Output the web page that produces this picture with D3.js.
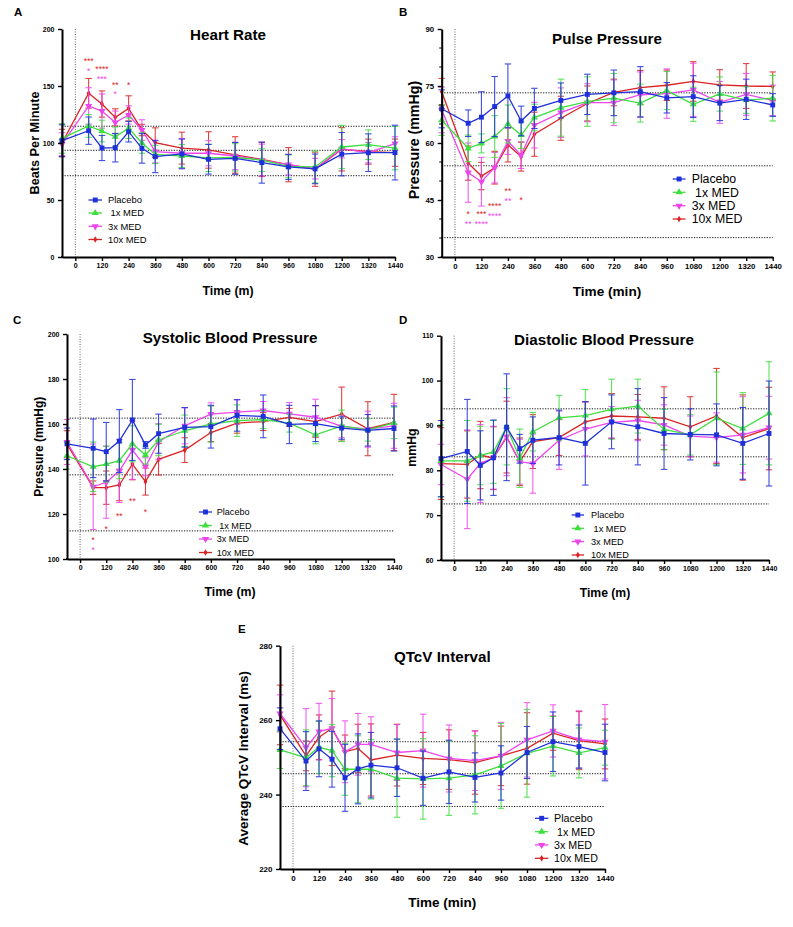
<!DOCTYPE html>
<html><head><meta charset="utf-8">
<script src="https://cdn.jsdelivr.net/npm/d3@7"></script>
<style>
body{margin:0;background:#fff}
svg{display:block}
text{font-family:"Liberation Sans",Arial,Helvetica,sans-serif}
</style>
</head><body>
<svg id="chart" width="793" height="927"></svg>
<script>
// ---------- shared data ----------
const times = [-60, 60, 120, 180, 240, 300, 360, 480, 600, 720, 840, 960, 1080, 1200, 1320, 1440];
const xTickValues = [0, 120, 240, 360, 480, 600, 720, 840, 960, 1080, 1200, 1320, 1440];
const seriesNames = ["Placebo", " 1x MED", "3x MED", "10x MED"];
const seriesColors = ["#1f2fd9", "#3fde3f", "#ec45ec", "#d92323"];

// ---------- A: Heart Rate ----------
const hrPlacebo = [102, 110.8, 95.6, 95.9, 109.9, 95.3, 88, 90.4, 85.7, 86.5, 82.8, 79, 77.3, 90.2, 91.5, 91.6];
const hrPlaceboErr = [14, 12, 11, 12.5, 9, 13, 14, 13, 13, 14, 18, 11, 13, 19, 16.5, 24];
const hr1x = [104, 115, 110.5, 105.5, 113, 100, 90, 88.6, 87, 87.4, 85, 79.5, 79, 96.5, 98.5, 95.5];
const hr1xErr = [13, 10, 9.5, 8.5, 9, 9, 8, 10, 12, 12, 10, 10, 14, 19, 13, 19];
const hr3x = [99, 132.5, 128, 118, 124.6, 111.4, 92.5, 91, 91, 88.6, 85, 81, 77.5, 95, 91.5, 99.5];
const hr3xErr = [10, 16, 15, 10, 8, 9, 10, 13, 11, 12, 14, 9, 9, 8, 9, 6];
const hr10x = [100, 143.6, 134.2, 122.5, 130.4, 111.4, 100.3, 95.5, 93.9, 89.5, 85.6, 81, 77, 94.5, 92.4, 91.5];
const hr10xErr = [12, 13, 11.5, 7.5, 11, 5, 13, 14, 16, 16, 15, 15, 15, 19, 11, 12];
const hrRefLines = [114.7, 93.6, 71.3];
const hrYTicks = [0, 50, 100, 150, 200];
const hrStars = [
  {t: 60, v: 173.4, s: "***", k: 3}, {t: 60, v: 164.6, s: "*", k: 2},
  {t: 120, v: 167, s: "****", k: 3}, {t: 120, v: 158.2, s: "***", k: 2},
  {t: 180, v: 152.9, s: "**", k: 3}, {t: 180, v: 144.5, s: "*", k: 2},
  {t: 240, v: 152.9, s: "*", k: 3}
];

// ---------- B: Pulse Pressure ----------
const ppPlacebo = [69, 65.2, 66.8, 69.6, 72.4, 65.8, 69.1, 71.2, 72.8, 73.2, 73.5, 71.9, 72.2, 70.5, 71.5, 70];
const ppPlaceboErr = [5, 3.5, 6.7, 7.9, 8.4, 3.9, 5.3, 4.6, 5.3, 6, 6.6, 4, 5.5, 4.6, 5.3, 3];
const pp1x = [66, 58.6, 59.9, 61.7, 65, 62.1, 66.7, 69.3, 70.9, 71.8, 70.5, 73.8, 70.2, 72.9, 71.3, 71.8];
const pp1xErr = [4, 3.5, 2.5, 5.5, 5, 3.5, 3.5, 7.5, 6.5, 6.5, 5, 5, 4.5, 4.5, 3.5, 6];
const pp3x = [68.7, 52.2, 49.8, 53.5, 60.5, 56.8, 64.7, 68, 70.6, 70.6, 72.7, 73, 74, 70.7, 72.8, 71.2];
const pp3xErr = [6, 7.8, 6.4, 4, 3.5, 3.5, 6, 6.5, 5, 6, 6, 6.5, 7, 5.5, 5.5, 4];
const pp10x = [73.5, 54.7, 51.3, 53.5, 59.5, 56.4, 62.3, 66.5, 70.4, 73.3, 74.6, 75.2, 76.2, 75.3, 75, 74.9];
const pp10xErr = [3.5, 4.5, 3.6, 4.3, 4.5, 3.8, 5.8, 5.8, 4.6, 3.5, 4.5, 4, 5.2, 4, 5.9, 3.8];
const ppRefLines = [73.2, 54, 35.1];
const ppYTicks = [30, 45, 60, 75, 90];
const ppStars = [
  {t: 60, v: 41.9, s: "*", k: 3}, {t: 60, v: 39.3, s: "**", k: 2},
  {t: 120, v: 41.9, s: "***", k: 3}, {t: 120, v: 39.3, s: "****", k: 2},
  {t: 180, v: 43.9, s: "****", k: 3}, {t: 180, v: 41.3, s: "****", k: 2},
  {t: 240, v: 47.9, s: "**", k: 3}, {t: 240, v: 45.3, s: "**", k: 2},
  {t: 300, v: 45.4, s: "*", k: 3}
];

// ---------- C: Systolic Blood Pressure ----------
const sbpPlacebo = [151.2, 149.2, 147.7, 152.4, 161.8, 150.7, 155.7, 158.5, 158.8, 163.8, 163.4, 159.8, 160.2, 158.2, 157.2, 158];
const sbpPlaceboErr = [7, 13, 13, 14, 18, 1.5, 8.7, 8.8, 9.5, 7, 9.5, 8.5, 8, 5, 7, 10];
const sbp1x = [145.9, 141, 142.2, 143.7, 151.2, 146.2, 152.9, 157, 160, 161.5, 162, 160.4, 155.2, 159.2, 157.4, 160.5];
const sbp1xErr = [6, 11, 8, 8, 8, 4, 7, 7, 8, 7, 4, 4, 4, 7, 5, 7];
const sbp3x = [152, 132.1, 134.1, 139.1, 148.4, 141, 152.1, 159.2, 164.4, 165.3, 166, 164.5, 163, 158.9, 157.7, 159.2];
const sbp3xErr = [10, 19, 16, 14, 13, 4, 8, 8, 5, 5.5, 4, 5, 8, 5, 8, 10];
const sbp10x = [151, 131.7, 131.7, 132.9, 142.2, 134.4, 144.3, 148.4, 156.2, 160.4, 161.1, 162.9, 161.1, 164.4, 157.9, 160.7];
const sbp10xErr = [6, 3, 7.4, 7, 7, 6, 7, 5.5, 4, 4.5, 4, 4, 7, 12, 12, 12.5];
const sbpRefLines = [162.6, 137.4, 112.5];
const sbpYTicks = [100, 120, 140, 160, 180, 200];
const sbpStars = [
  {t: 60, v: 109.2, s: "*", k: 3}, {t: 60, v: 104.7, s: "*", k: 2},
  {t: 120, v: 114.1, s: "*", k: 3}, {t: 180, v: 119.9, s: "**", k: 3},
  {t: 240, v: 126.7, s: "**", k: 3}, {t: 300, v: 121.8, s: "*", k: 3}
];

// ---------- D: Diastolic Blood Pressure ----------
const dbpPlacebo = [82.6, 84.2, 81.1, 82.8, 89.6, 84.8, 86.7, 87.3, 86, 90.8, 89.7, 88.2, 88, 87.9, 86, 88.2];
const dbpPlaceboErr = [8.5, 11.6, 7.7, 8.4, 11.9, 3.2, 5.2, 6.1, 9.3, 6, 8.5, 8, 5.7, 6.9, 8, 11.7];
const dbp1x = [82.1, 82.1, 83.3, 84.1, 89.7, 82.7, 88.6, 91.7, 92.2, 93.6, 94.3, 89.1, 87.9, 91.6, 89.3, 92.7];
const dbp1xErr = [8, 9, 6.5, 7, 8.5, 6.5, 4.3, 5, 5.8, 6.7, 6, 4.5, 4.5, 10.3, 8, 11.5];
const dbp3x = [81.3, 78, 81.5, 82.8, 87.5, 81.9, 81.5, 86.7, 89.2, 90.7, 91.1, 90.1, 87.6, 87.3, 87.9, 89.5];
const dbp3xErr = [4.5, 11, 8.7, 7, 8.7, 5, 6.6, 6.5, 6, 3.5, 4.5, 4.5, 4.5, 5.5, 8.5, 7];
const dbp10x = [81.5, 81.3, 83.4, 82.7, 87.4, 81.9, 86.4, 87.3, 90.8, 92.1, 91.9, 91.6, 89.7, 92.1, 87.3, 89.3];
const dbp10xErr = [8, 7.5, 7.5, 7, 8, 5.3, 6, 4, 4.5, 5, 5, 7, 6.7, 10.6, 9.5, 9.2];
const dbpRefLines = [93.7, 83.0, 72.5];
const dbpYTicks = [60, 70, 80, 90, 100, 110];

// ---------- E: QTcV Interval ----------
const qtPlacebo = [257.7, 249, 252.3, 249.5, 244.5, 246.9, 247.9, 247.2, 244.4, 246.1, 244.6, 245.8, 251.3, 254.2, 252.9, 251.3];
const qtPlaceboErr = [5.6, 7.9, 7.5, 7.5, 9, 9.4, 8.8, 7.7, 7.3, 8.5, 6.6, 7.3, 7, 8, 5.8, 7.6];
const qt1x = [252, 249.9, 252.7, 251.8, 246.8, 246.8, 246.8, 244.4, 244.2, 244.4, 245.3, 247.7, 251.1, 253, 251.2, 252.6];
const qt1xErr = [5, 7.5, 7, 7, 7, 9, 8, 10.5, 10.8, 10, 10.5, 11.4, 11.8, 8, 6.7, 4.7];
const qt3x = [261.8, 252.6, 256.9, 257.8, 251.5, 253.5, 253.5, 251.3, 251.8, 249.7, 249.1, 250.4, 254.7, 257.1, 254.8, 254.2];
const qt3xErr = [5, 10.5, 7.6, 8, 8.3, 8.3, 7.4, 7.5, 9.8, 9, 8, 9, 10, 7, 7.7, 10];
const qt10x = [261.4, 250.4, 255.4, 257.8, 251.5, 252.4, 249.3, 250.6, 249.7, 249.4, 248.6, 250.4, 252.4, 256.5, 254.5, 253.6];
const qt10xErr = [8, 4, 6, 10, 4.5, 6.5, 9.7, 8.3, 7, 8, 8.5, 8, 9.6, 4.6, 7.8, 6.7];
const qtRefLines = [254.2, 245.6, 236.8];
const qtYTicks = [220, 240, 260, 280];

// ---------- panel layouts ----------
const panels = [
  {letter: "A", lx: 14, ly: 16, title: "Heart Rate", tx: 228, ty: 40,
   left: 62, right: 395, top: 29, bottom: 257, yDomain: [0, 200], yTicks: hrYTicks, minor: null,
   values: [hrPlacebo, hr1x, hr3x, hr10x], errors: [hrPlaceboErr, hr1xErr, hr3xErr, hr10xErr],
   refs: hrRefLines, stars: hrStars, tickFs: 7,
   xTitle: "Time (m)", xtx: 228, xty: 295, xfs: 12.3,
   yTitle: "Beats Per Minute", ytx: 38.5, yty: 143, yfs: 12.7,
   leg: {x1: 88.5, x2: 102, tx: 108, rows: [200, 213, 226.3, 239.5], fs: 9.4}},
  {letter: "B", lx: 399, ly: 16, title: "Pulse Pressure", tx: 607, ty: 44.3,
   left: 441.7, right: 772.7, top: 29, bottom: 257, yDomain: [30, 90], yTicks: ppYTicks, minor: 5,
   values: [ppPlacebo, pp1x, pp3x, pp10x], errors: [ppPlaceboErr, pp1xErr, pp3xErr, pp10xErr],
   refs: ppRefLines, stars: ppStars, tickFs: 7.8,
   xTitle: "Time (min)", xtx: 607, xty: 296, xfs: 13.6,
   yTitle: "Pressure (mmHg)", ytx: 418.5, yty: 140, yfs: 14.2,
   leg: {x1: 672.7, x2: 685.5, tx: 691.7, rows: [179, 192.3, 205.7, 219], fs: 12.3}},
  {letter: "C", lx: 13, ly: 324, title: "Systolic Blood Pressure", tx: 230, ty: 342.7,
   left: 67, right: 394, top: 334, bottom: 559, yDomain: [100, 200], yTicks: sbpYTicks, minor: null,
   values: [sbpPlacebo, sbp1x, sbp3x, sbp10x], errors: [sbpPlaceboErr, sbp1xErr, sbp3xErr, sbp10xErr],
   refs: sbpRefLines, stars: sbpStars, tickFs: 7,
   xTitle: "Time (m)", xtx: 230, xty: 596, xfs: 12.3,
   yTitle: "Pressure (mmHg)", ytx: 42.5, yty: 446.7, yfs: 12,
   leg: {x1: 199, x2: 212, tx: 216.7, rows: [512, 525.5, 539, 552.5], fs: 9.1}},
  {letter: "D", lx: 399, ly: 324, title: "Diastolic Blood Pressure", tx: 604, ty: 345.3,
   left: 441, right: 769, top: 335.7, bottom: 560, yDomain: [60, 110], yTicks: dbpYTicks, minor: null,
   values: [dbpPlacebo, dbp1x, dbp3x, dbp10x], errors: [dbpPlaceboErr, dbp1xErr, dbp3xErr, dbp10xErr],
   refs: dbpRefLines, stars: [], tickFs: 7,
   xTitle: "Time (m)", xtx: 605, xty: 596.7, xfs: 12.2,
   yTitle: "mmHg", ytx: 416, yty: 447.5, yfs: 12.3,
   leg: {x1: 571.7, x2: 584, tx: 591, rows: [515, 528.3, 541.6, 555], fs: 9.2}},
  {letter: "E", lx: 238, ly: 633, title: "QTcV Interval", tx: 442.3, ty: 662.3,
   left: 280, right: 605, top: 645.7, bottom: 869, yDomain: [220, 280], yTicks: qtYTicks, minor: null,
   values: [qtPlacebo, qt1x, qt3x, qt10x], errors: [qtPlaceboErr, qt1xErr, qt3xErr, qt10xErr],
   refs: qtRefLines, stars: [], tickFs: 8,
   xTitle: "Time (min)", xtx: 442.3, xty: 906.7, xfs: 13.5,
   yTitle: "Average QTcV Interval (ms)", ytx: 248, yty: 758.3, yfs: 13.5,
   leg: {x1: 535, x2: 548.3, tx: 554, rows: [818.3, 831.7, 845, 858.3], fs: 10.7}}
];

const svg = d3.select("#chart");

function markerPath(i) {
  if (i === 0) return d3.symbol(d3.symbolSquare, 24)();
  if (i === 1) return d3.symbol(d3.symbolTriangle, 22)();
  if (i === 2) return d3.symbol(d3.symbolTriangle, 22)();
  return d3.symbol(d3.symbolDiamond, 13)();
}
function markerRot(i) { return i === 2 ? " rotate(180)" : ""; }

function drawPanel(p) {
  const g = svg.append("g");
  const x = d3.scaleLinear().domain([-60, 1440]).range([p.left, p.right]);
  const y = d3.scaleLinear().domain(p.yDomain).range([p.bottom, p.top]);

  // panel letter and title
  g.append("text").attr("x", p.lx).attr("y", p.ly).attr("font-size", 11.5).attr("font-weight", "bold").text(p.letter);
  g.append("text").attr("x", p.tx).attr("y", p.ty).attr("text-anchor", "middle")
    .attr("font-size", 15.2).attr("font-weight", "bold").text(p.title);

  // reference dotted lines
  g.selectAll(null).data(p.refs).join("line")
    .attr("x1", p.left).attr("x2", p.right)
    .attr("y1", d => y(d)).attr("y2", d => y(d))
    .attr("stroke", "#111").attr("stroke-width", 1).attr("stroke-dasharray", "1.2,1.4");
  // vertical dotted line at time 0
  g.append("line").attr("x1", x(0)).attr("x2", x(0)).attr("y1", p.top).attr("y2", p.bottom)
    .attr("stroke", "#555").attr("stroke-width", 0.9).attr("stroke-dasharray", "1,1.5");

  // series (drawn so that placebo ends on top)
  [3, 2, 1, 0].forEach(i => {
    const col = seriesColors[i];
    const pts = times.map((t, j) => ({t: t, v: p.values[i][j], e: p.errors[i][j]}));
    const eb = g.append("g").attr("stroke", col).attr("stroke-width", 1.1).attr("opacity", 0.85);
    pts.forEach(d => {
      const cx = x(d.t), yHi = y(d.v + d.e), yLo = y(d.v - d.e);
      eb.append("line").attr("x1", cx).attr("x2", cx).attr("y1", yHi).attr("y2", yLo);
      eb.append("line").attr("x1", cx - 3.2).attr("x2", cx + 3.2).attr("y1", yHi).attr("y2", yHi);
      eb.append("line").attr("x1", cx - 3.2).attr("x2", cx + 3.2).attr("y1", yLo).attr("y2", yLo);
    });
    g.append("path").datum(pts)
      .attr("d", d3.line().x(d => x(d.t)).y(d => y(d.v)))
      .attr("fill", "none").attr("stroke", col).attr("stroke-width", 1.3);
    g.selectAll(null).data(pts).join("path")
      .attr("transform", d => `translate(${x(d.t)},${y(d.v)})` + markerRot(i))
      .attr("d", markerPath(i)).attr("fill", col);
  });

  // significance stars (k = 3 -> 10x MED colour, k = 2 -> 3x MED colour)
  g.selectAll(null).data(p.stars).join("text")
    .attr("x", d => x(d.t)).attr("y", d => y(d.v) + 4.9)
    .attr("text-anchor", "middle").attr("font-size", 8.5)
    .attr("fill", d => seriesColors[d.k])
    .text(d => d.s);

  // axes
  const yAxis = d3.axisLeft(y).tickValues(p.yTicks).tickFormat(d3.format("d"))
    .tickSize(4).tickPadding(3.5).tickSizeOuter(0);
  const xAxis = d3.axisBottom(x).tickValues(xTickValues).tickFormat(d3.format("d"))
    .tickSize(4).tickPadding(2.5).tickSizeOuter(0);
  const ya = g.append("g").attr("transform", `translate(${p.left},0)`).call(yAxis);
  const xa = g.append("g").attr("transform", `translate(0,${p.bottom})`).call(xAxis);
  [ya, xa].forEach(a => {
    a.select(".domain").attr("stroke", "#000").attr("stroke-width", 2);
    a.selectAll(".tick line").attr("stroke", "#000").attr("stroke-width", 1.4);
    a.selectAll(".tick text").attr("fill", "#000").attr("font-size", p.tickFs)
      .attr("font-weight", "bold").attr("font-family", '"Liberation Sans",Arial,sans-serif');
  });
  if (p.minor) {
    const minorVals = d3.range(p.yDomain[0], p.yDomain[1] + 0.001, p.minor).filter(v => !p.yTicks.includes(v));
    g.selectAll(null).data(minorVals).join("line")
      .attr("x1", p.left - 2.5).attr("x2", p.left).attr("y1", d => y(d)).attr("y2", d => y(d))
      .attr("stroke", "#000").attr("stroke-width", 1);
  }
  // corner patch so the two axes meet
  g.append("line").attr("x1", p.left).attr("x2", p.left).attr("y1", p.bottom - 1).attr("y2", p.bottom + 1)
    .attr("stroke", "#000").attr("stroke-width", 2);

  // axis titles
  g.append("text").attr("x", p.xtx).attr("y", p.xty).attr("text-anchor", "middle")
    .attr("font-size", p.xfs).attr("font-weight", "bold").text(p.xTitle);
  g.append("text").attr("transform", `translate(${p.ytx},${p.yty}) rotate(-90)`).attr("text-anchor", "middle")
    .attr("font-size", p.yfs).attr("font-weight", "bold").text(p.yTitle);

  // legend
  const L = p.leg;
  seriesNames.forEach((name, i) => {
    const ry = L.rows[i];
    g.append("line").attr("x1", L.x1).attr("x2", L.x2).attr("y1", ry).attr("y2", ry)
      .attr("stroke", seriesColors[i]).attr("stroke-width", 1.3);
    g.append("path").attr("transform", `translate(${(L.x1 + L.x2) / 2},${ry})` + markerRot(i))
      .attr("d", markerPath(i)).attr("fill", seriesColors[i]);
    g.append("text").attr("x", L.tx).attr("y", ry + L.fs * 0.36)
      .attr("font-size", L.fs).style("white-space", "pre").text(name);
  });
}

panels.forEach(drawPanel);
</script>
</body></html>
